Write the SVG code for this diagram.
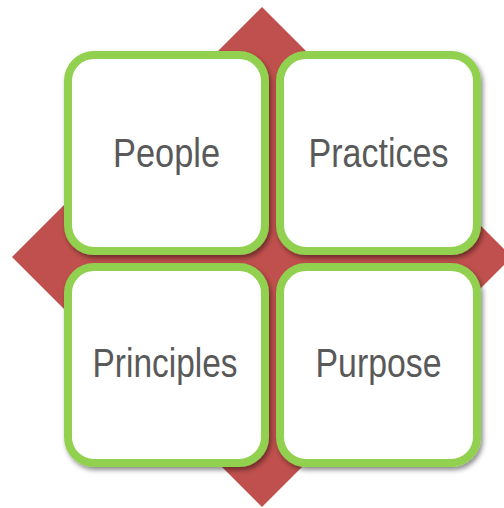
<svg xmlns="http://www.w3.org/2000/svg" width="504" height="508" viewBox="0 0 504 508">
  <defs>
    <filter id="shadow" x="-10%" y="-10%" width="125%" height="125%">
      <feDropShadow dx="2" dy="3" stdDeviation="2.5" flood-color="#000" flood-opacity="0.45"/>
    </filter>
  </defs>
  <style>
    .box { fill: #FFFFFF; stroke: #92D050; stroke-width: 8; filter: url(#shadow); }
    .label { font-family: "Liberation Sans Narrow", "Liberation Sans", Arial, sans-serif; font-size: 41px; fill: #595959; text-anchor: middle; }
  </style>
  <rect width="504" height="508" fill="#FFFFFF"/>
  <g id="diamond">
    <polygon points="262,7 512,257 262,507 12,257" fill="#C0504D"/>
  </g>
  <g id="connectors"></g>
  <g id="people">
    <rect class="box" x="68" y="55" width="197" height="196" rx="26" ry="26"/>
    <text class="label" x="166.5" y="167" textLength="107" lengthAdjust="spacingAndGlyphs">People</text>
  </g>
  <g id="practices">
    <rect class="box" x="280" y="55" width="197" height="196" rx="26" ry="26"/>
    <text class="label" x="378.5" y="167" textLength="140" lengthAdjust="spacingAndGlyphs">Practices</text>
  </g>
  <g id="principles">
    <rect class="box" x="68" y="267" width="197" height="196" rx="26" ry="26"/>
    <text class="label" x="165" y="376.5" textLength="145" lengthAdjust="spacingAndGlyphs">Principles</text>
  </g>
  <g id="purpose">
    <rect class="box" x="280" y="267" width="197" height="196" rx="26" ry="26"/>
    <text class="label" x="378.5" y="377" textLength="126" lengthAdjust="spacingAndGlyphs">Purpose</text>
  </g>
</svg>
